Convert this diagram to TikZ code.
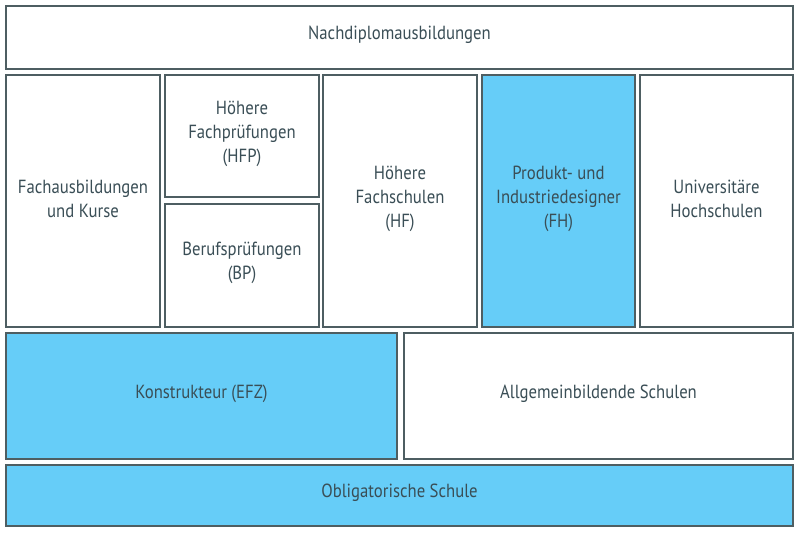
\documentclass[tikz,border=0pt]{standalone}
\usepackage{fontspec}
\setmainfont[FakeStretch=0.88]{PT Sans}
\definecolor{edge}{HTML}{4E5E62}
\definecolor{txt}{HTML}{3A4E56}
\definecolor{sky}{HTML}{66CDF8}
\begin{document}
\begin{tikzpicture}[x=1pt,y=-1pt,
  box/.style={draw=edge,line width=2pt,fill=white,inner sep=0pt},
  hl/.style={box,fill=sky},
  lbl/.style={text=txt,align=center,inner sep=0pt,yshift=2.5pt,
    font=\fontsize{19}{24}\selectfont}]
\useasboundingbox (0,0) rectangle (799,532);
\fill[white] (0,0) rectangle (799,532);
\node[box,minimum width=787pt,minimum height=63pt,label={[lbl]center:Nachdiplomausbildungen}] (nach) at (399.5,37.5) {};
\node[box,minimum width=154pt,minimum height=252pt,label={[lbl]center:{Fachausbildungen\\und Kurse}}] (fach) at (83,201) {};
\node[box,minimum width=154pt,minimum height=122pt,label={[lbl]center:{Höhere\\Fachprüfungen\\(HFP)}}] (hfp) at (242,136) {};
\node[box,minimum width=154pt,minimum height=123pt,label={[lbl]center:{Berufsprüfungen\\(BP)}}] (bp) at (242,265.5) {};
\node[box,minimum width=154pt,minimum height=252pt,label={[lbl]center:{Höhere\\Fachschulen\\(HF)}}] (hf) at (400,201) {};
\node[hl,minimum width=153pt,minimum height=252pt,label={[lbl]center:{Produkt- und\\Industriedesigner\\(FH)}}] (fh) at (558.5,201) {};
\node[box,minimum width=153pt,minimum height=252pt,label={[lbl]center:{Universitäre\\Hochschulen}}] (uni) at (716.5,201) {};
\node[hl,minimum width=391pt,minimum height=126pt,label={[lbl]center:{Konstrukteur (EFZ)}}] (kon) at (201.5,396) {};
\node[box,minimum width=389pt,minimum height=126pt,label={[lbl]center:{Allgemeinbildende Schulen}}] (allg) at (598.5,396) {};
\node[hl,minimum width=787pt,minimum height=61pt,label={[lbl]center:{Obligatorische Schule}}] (obl) at (399.5,495.5) {};
\end{tikzpicture}
\end{document}
